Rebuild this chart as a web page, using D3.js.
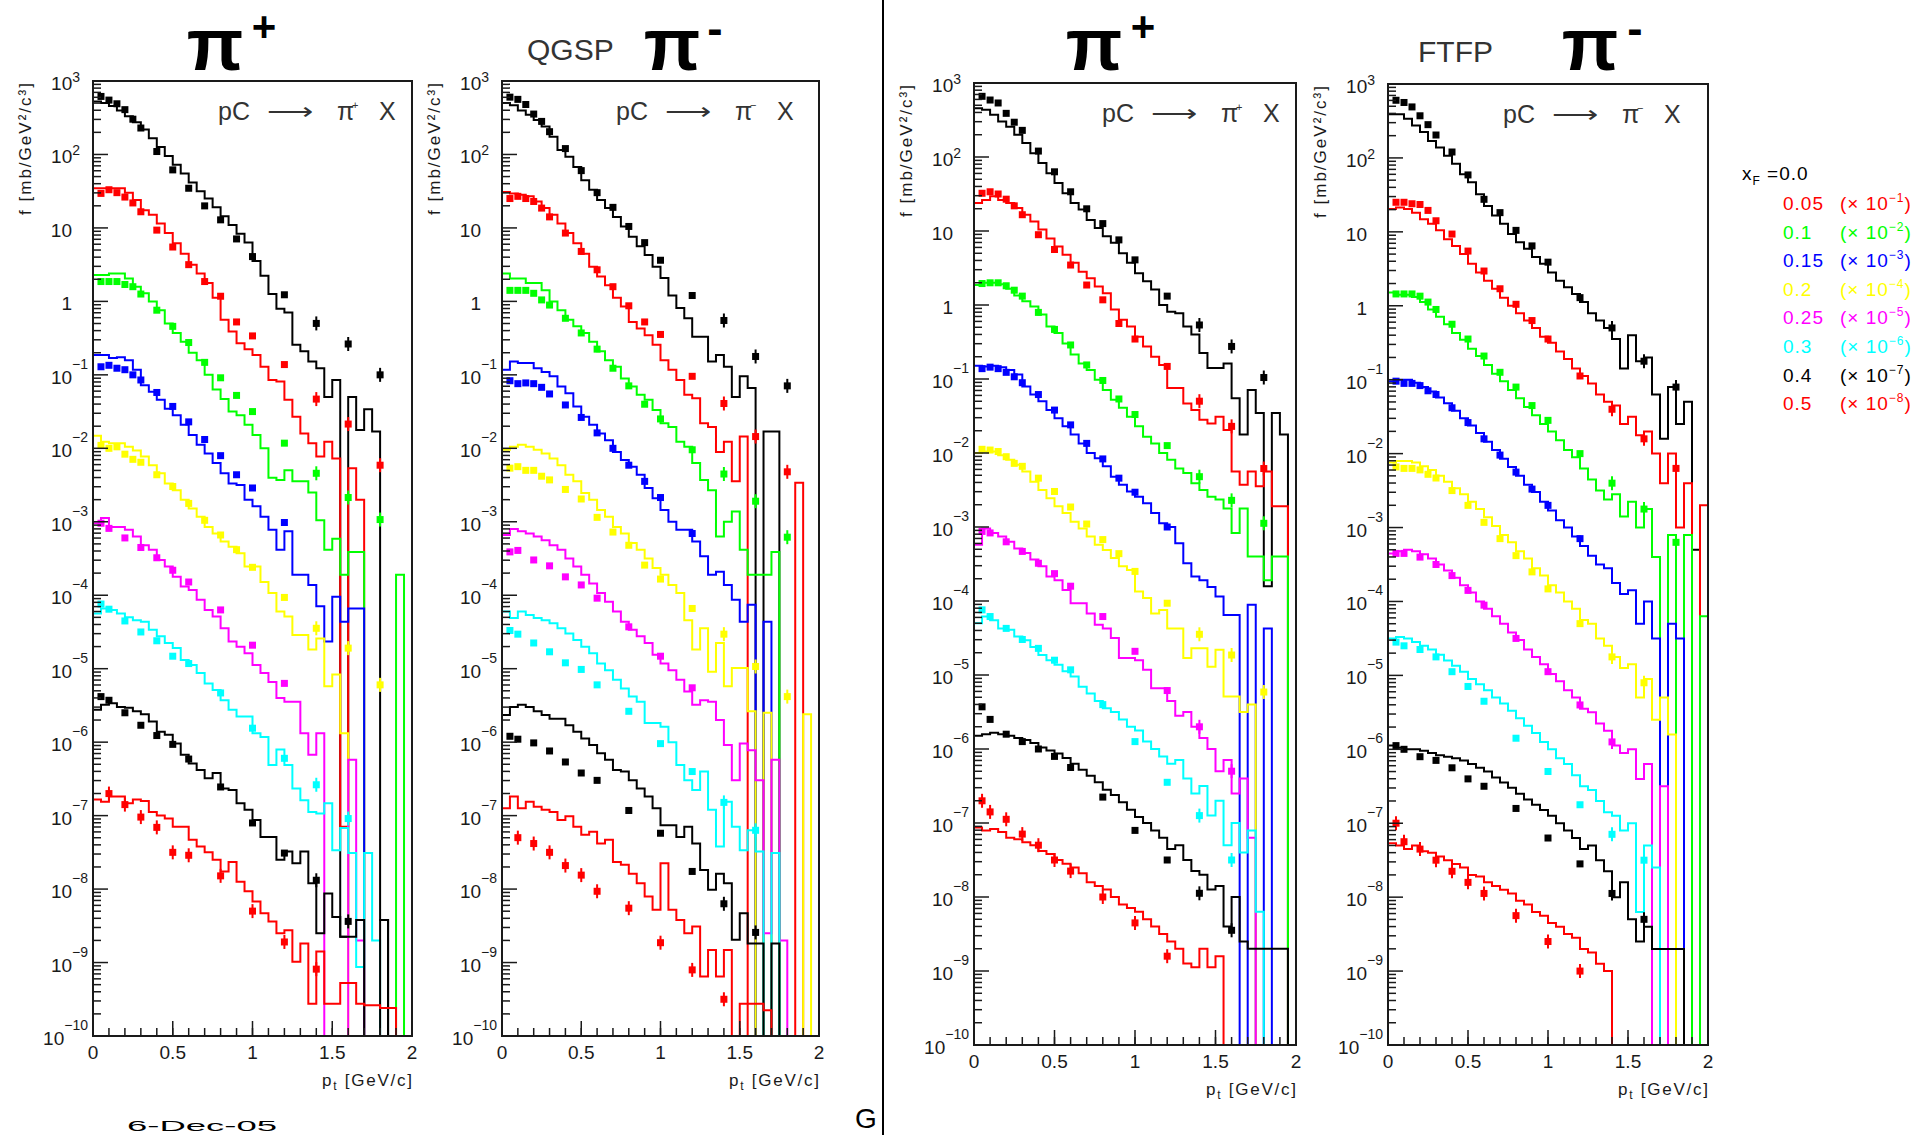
<!DOCTYPE html>
<html>
<head>
<meta charset="utf-8">
<script src="https://cdn.jsdelivr.net/npm/d3@7"></script>
<style>
  body { margin: 0; background: #fff; }
  svg { display: block; }
  text { font-family: "Liberation Sans", Arial, sans-serif; }
</style>
</head>
<body>
<svg id="chart" width="1932" height="1135"></svg>
<script>
// pt bin edges of the model histograms [GeV/c]
const binEdges = [0, 0.05, 0.1, 0.15, 0.2, 0.25, 0.3, 0.35, 0.4, 0.45, 0.5, 0.55, 0.6, 0.65, 0.7, 0.75,
  0.8, 0.85, 0.9, 0.95, 1.0, 1.05, 1.1, 1.15, 1.2, 1.25, 1.3, 1.35, 1.4, 1.45, 1.5, 1.55, 1.6, 1.65,
  1.7, 1.75, 1.8, 1.85, 1.9, 1.95, 2.0];
// pt of the measured points
const pointPt = [0.05, 0.1, 0.15, 0.2, 0.25, 0.3, 0.4, 0.5, 0.6, 0.7, 0.8, 0.9, 1.0, 1.2, 1.4, 1.6, 1.8];

const xfLabels = ['0.0', '0.05', '0.1', '0.15', '0.2', '0.25', '0.3', '0.4', '0.5'];
const scaleExps = [null, '−1', '−2', '−3', '−4', '−5', '−6', '−7', '−8'];
const seriesColors = ['#000000', '#ff0000', '#00ff00', '#0000ff', '#ffff00', '#ff00ff', '#00ffff', '#000000', '#ff0000'];
const yTickExps = [3, 2, 1, 0, -1, -2, -3, -4, -5, -6, -7, -8, -9, -10];
const xTickLabels = [0, 0.5, 1, 1.5, 2];

// all values are log10 of the plotted f (already multiplied by the legend factor); null = empty bin

// QGSP, pC -> pi+ X
const qgspPipHist = [
  [2.72, 2.70, 2.66, 2.60, 2.52, 2.44, 2.34, 2.22, 2.10, 1.98, 1.86, 1.74, 1.62, 1.50, 1.40, 1.28, 1.16, 1.04, 0.92, 0.80, 0.55, 0.35, 0.10, -0.10, -0.15, -0.59, -0.68, -0.82, -0.91, -1.30, -1.07, -8.65, -1.30, -1.75, -1.47, -1.77, -8.42, null, null, null],
  [1.54, 1.54, 1.54, 1.54, 1.48, 1.38, 1.24, 1.18, 1.06, 0.93, 0.79, 0.65, 0.50, 0.38, 0.25, 0.05, -0.25, -0.41, -0.57, -0.65, -0.73, -0.89, -1.07, -1.09, -1.34, -1.57, -1.80, -1.93, -2.11, -1.91, -2.14, -7.15, -2.27, -2.70, null, null, null, null, null, null],
  [0.36, 0.36, 0.38, 0.38, 0.31, 0.20, 0.11, 0.00, -0.12, -0.30, -0.43, -0.55, -0.70, -0.80, -1.00, -1.20, -1.33, -1.50, -1.55, -1.68, -1.82, -2.00, -2.40, -2.43, -2.30, -2.45, -2.45, -2.60, -2.98, -3.38, -3.23, -3.72, -3.41, -3.41, null, null, null, null, -3.72, null],
  [-0.73, -0.73, -0.77, -0.76, -0.80, -0.93, -1.14, -1.23, -1.34, -1.46, -1.55, -1.68, -1.82, -1.95, -2.07, -2.20, -2.34, -2.48, -2.50, -2.70, -2.79, -2.93, -3.11, -3.38, -3.13, -3.72, -3.72, -3.86, -4.15, -4.63, -4.02, -4.36, -4.18, -4.18, null, null, null, null, null, null],
  [-1.83, -1.91, -1.93, -1.93, -1.98, -2.03, -2.11, -2.23, -2.34, -2.48, -2.57, -2.70, -2.82, -2.93, -3.07, -3.16, -3.27, -3.34, -3.43, -3.61, -3.61, -3.82, -3.97, -4.22, -4.29, -4.54, -4.54, -4.74, -4.59, -5.24, -5.08, -5.88, null, null, null, null, null, null, null, null],
  [-3.02, -2.95, -3.07, -3.07, -3.11, -3.20, -3.32, -3.38, -3.52, -3.61, -3.75, -3.88, -3.93, -4.06, -4.20, -4.29, -4.45, -4.63, -4.70, -4.79, -4.95, -5.06, -5.18, -5.40, -5.45, -5.45, -5.88, -6.17, -5.88, null, null, null, -6.24, -8.70, null, null, null, null, null, null],
  [-4.25, -4.18, -4.20, -4.25, -4.30, -4.34, -4.36, -4.47, -4.56, -4.65, -4.72, -4.88, -4.95, -5.06, -5.20, -5.29, -5.43, -5.56, -5.65, -5.65, -5.88, -5.93, -6.31, -6.10, -6.31, -6.63, -6.79, -6.95, -6.97, -6.83, -7.47, -7.17, -7.51, -9.06, -7.51, -8.70, null, null, null, null],
  [-5.56, -5.49, -5.47, -5.52, -5.53, -5.58, -5.62, -5.72, -5.86, -5.90, -6.02, -6.17, -6.29, -6.38, -6.49, -6.42, -6.63, -6.65, -6.83, -6.92, -7.06, -7.29, -7.29, -7.60, -7.49, -7.65, -7.49, -7.92, -8.60, -8.06, -8.38, -8.65, -8.65, -8.42, null, null, -8.42, null, null, null],
  [-6.78, -6.81, -6.74, -6.74, -6.83, -6.78, -6.80, -6.95, -7.00, -7.04, -7.15, -7.15, -7.33, -7.42, -7.50, -7.60, -7.76, -7.63, -7.90, -8.03, -8.17, -8.33, -8.44, -8.60, -8.56, -8.99, -8.74, -9.56, -8.85, -9.56, -9.56, -9.28, -9.28, -9.56, -9.58, -9.58, -9.62, -9.62, null, null]
];
const qgspPipPts = [
  [2.79, 2.74, 2.69, 2.61, 2.48, 2.36, 2.04, 1.79, 1.54, 1.30, 1.11, 0.85, 0.61, 0.09, -0.30, -0.58, -1.00],
  [1.47, 1.52, 1.48, 1.42, 1.34, 1.22, 0.97, 0.74, 0.50, 0.27, 0.07, -0.28, -0.47, -0.86, -1.33, -1.67, -2.23],
  [0.27, 0.27, 0.27, 0.23, 0.20, 0.10, -0.12, -0.34, -0.56, -0.83, -1.04, -1.28, -1.50, -1.93, -2.34, -2.67, -2.97],
  [-0.89, -0.87, -0.91, -0.93, -1.00, -1.07, -1.24, -1.43, -1.64, -1.88, -2.10, -2.36, -2.54, -3.01, null, null, null],
  [-1.96, -2.00, -1.98, -2.08, -2.15, -2.19, -2.36, -2.52, -2.75, -2.98, -3.18, -3.38, -3.62, -4.03, -4.45, -4.72, -5.22],
  [-3.02, -3.09, null, -3.22, null, -3.35, -3.49, -3.66, -3.82, null, -4.20, null, -4.68, -5.20, null, null, null],
  [-4.12, -4.19, null, -4.35, null, -4.50, -4.62, -4.83, -4.93, null, -5.33, null, -5.81, -6.22, -6.58, -7.04, null],
  [-5.38, -5.43, null, -5.60, null, -5.77, -5.91, -6.03, -6.23, null, -6.61, null, -7.10, -7.51, -7.88, -8.44, null],
  [null, -6.70, null, -6.85, null, -7.02, -7.16, -7.50, -7.54, null, -7.82, null, -8.30, -8.72, -9.09, null, null]
];

// QGSP, pC -> pi- X
const qgspPimHist = [
  [2.70, 2.67, 2.60, 2.54, 2.47, 2.38, 2.24, 2.06, 1.97, 1.83, 1.65, 1.52, 1.38, 1.27, 1.15, 1.02, 0.88, 0.75, 0.63, 0.47, 0.32, 0.08, -0.09, -0.23, -0.48, -0.48, -0.82, -0.73, -0.89, -1.30, -1.02, -1.18, null, -1.77, -1.77, null, null, null, null, null],
  [1.49, 1.47, 1.45, 1.43, 1.36, 1.27, 1.18, 1.06, 0.93, 0.79, 0.65, 0.47, 0.34, 0.22, 0.05, -0.07, -0.28, -0.37, -0.46, -0.59, -0.80, -0.93, -1.07, -1.27, -1.32, -1.66, -1.71, -2.05, -1.91, -2.45, -1.84, null, null, null, null, null, null, -2.47, null, null],
  [0.38, 0.31, 0.31, 0.25, 0.25, 0.15, 0.00, -0.12, -0.25, -0.34, -0.43, -0.55, -0.68, -0.80, -0.89, -1.05, -1.16, -1.27, -1.34, -1.48, -1.66, -1.71, -1.91, -1.98, -2.20, -2.43, -2.57, -3.20, -3.00, -2.86, -3.38, -3.72, -3.72, -3.72, -3.41, null, null, null, null, null],
  [-0.93, -0.82, -0.84, -0.84, -0.91, -0.96, -1.02, -1.16, -1.25, -1.43, -1.57, -1.68, -1.80, -1.89, -2.05, -2.16, -2.25, -2.36, -2.54, -2.68, -2.84, -3.00, -3.11, -3.11, -3.27, -3.47, -3.72, -3.68, -3.86, -4.06, -4.36, -4.13, null, -4.36, null, null, null, null, null, null],
  [-2.02, -1.98, -1.95, -1.98, -2.02, -2.07, -2.14, -2.23, -2.36, -2.45, -2.61, -2.70, -2.84, -2.93, -3.07, -3.16, -3.29, -3.38, -3.50, -3.63, -3.72, -3.86, -3.97, -4.34, -4.74, -4.45, -5.04, -4.65, -5.24, -4.99, -4.99, -5.58, null, -5.60, null, null, null, null, -5.62, null],
  [-3.18, -3.10, -3.13, -3.16, -3.20, -3.25, -3.32, -3.38, -3.50, -3.61, -3.72, -3.84, -3.97, -4.09, -4.22, -4.36, -4.47, -4.56, -4.65, -4.81, -4.93, -5.02, -5.15, -5.31, -5.49, -5.43, -5.45, -5.70, -6.04, -6.52, -6.02, -6.11, -6.52, -8.60, -6.24, -8.70, null, null, null, null],
  [-4.22, -4.31, -4.22, -4.27, -4.31, -4.34, -4.38, -4.45, -4.52, -4.61, -4.70, -4.79, -4.93, -5.02, -5.15, -5.27, -5.38, -5.45, -5.74, -5.74, -5.79, -6.00, -6.31, -6.52, -6.65, -6.40, -6.92, -7.42, -6.81, -7.15, -7.47, -7.20, -7.49, null, -7.51, null, null, null, null, null],
  [-5.63, -5.52, -5.49, -5.52, -5.58, -5.63, -5.68, -5.68, -5.77, -5.86, -5.95, -6.04, -6.15, -6.24, -6.38, -6.40, -6.52, -6.63, -6.74, -6.90, -7.13, -7.13, -7.29, -7.15, -7.38, -7.74, -8.01, -7.79, -7.92, -8.69, -8.33, -8.74, -8.74, null, -8.74, null, null, null, null, null],
  [-6.90, -6.74, -6.90, -6.81, -6.88, -6.92, -6.95, -7.06, -7.01, -7.15, -7.26, -7.22, -7.38, -7.33, -7.63, -7.67, -7.79, -7.92, -8.10, -8.28, -7.65, -8.28, -8.42, -8.60, -8.51, -9.19, -8.83, -9.19, -8.83, null, -9.56, -9.56, -9.56, -9.65, null, null, null, null, null, null]
];
const qgspPimPts = [
  [2.78, 2.75, 2.68, 2.55, 2.45, 2.31, 2.08, 1.78, 1.48, 1.28, 1.02, 0.80, 0.56, 0.08, -0.26, -0.75, -1.15],
  [1.40, 1.43, 1.40, 1.36, 1.27, 1.15, 0.93, 0.68, 0.43, 0.20, -0.06, -0.28, -0.45, -1.02, -1.39, -1.84, -2.32],
  [0.15, 0.15, 0.15, 0.11, 0.02, -0.05, -0.23, -0.43, -0.65, -0.91, -1.15, -1.40, -1.60, -2.02, -2.35, -2.72, -3.21],
  [-1.08, -1.12, -1.11, -1.12, -1.17, -1.26, -1.41, -1.58, -1.79, -2.00, -2.23, -2.45, -2.67, -3.16, null, null, null],
  [-2.27, -2.25, -2.30, -2.30, -2.38, -2.43, -2.56, -2.69, -2.94, -3.14, -3.32, -3.59, -3.78, -4.18, -4.53, -4.97, -5.38],
  [-3.41, -3.39, null, -3.52, null, -3.60, -3.75, -3.86, -4.04, null, -4.43, null, -4.83, -5.26, null, null, null],
  [-4.48, -4.53, null, -4.65, null, -4.77, -4.92, -5.01, -5.22, null, -5.58, null, -6.02, -6.40, -6.82, -7.20, null],
  [-5.92, -5.96, null, -6.01, null, -6.12, -6.27, -6.42, -6.52, null, -6.93, null, -7.24, -7.76, -8.20, -8.59, null],
  [null, -7.30, null, -7.38, null, -7.50, -7.68, -7.81, -8.03, null, -8.26, null, -8.73, -9.10, -9.50, null, null]
];

// FTFP, pC -> pi+ X
const ftfpPipHist = [
  [2.66, 2.64, 2.57, 2.48, 2.41, 2.30, 2.19, 2.05, 1.92, 1.78, 1.65, 1.51, 1.38, 1.29, 1.15, 1.04, 0.93, 0.84, 0.70, 0.57, 0.43, 0.32, 0.21, 0.00, -0.09, -0.11, -0.29, -0.40, -0.65, -0.85, -0.85, -0.79, -1.26, -1.75, -1.15, -1.46, -3.80, -1.46, -1.75, null],
  [1.38, 1.42, 1.47, 1.42, 1.38, 1.31, 1.22, 1.13, 1.02, 0.90, 0.79, 0.68, 0.57, 0.45, 0.36, 0.25, 0.16, -0.06, -0.20, -0.29, -0.43, -0.56, -0.70, -0.81, -1.12, -1.12, -1.33, -1.42, -1.55, -1.60, -1.51, -1.69, -2.25, -2.43, -2.25, -2.45, -2.25, -2.72, -2.72, null],
  [0.27, 0.30, 0.30, 0.28, 0.22, 0.13, 0.05, -0.02, -0.13, -0.29, -0.38, -0.52, -0.67, -0.79, -0.88, -1.01, -1.15, -1.28, -1.39, -1.51, -1.64, -1.78, -1.87, -2.00, -2.09, -2.21, -2.27, -2.41, -2.50, -2.59, -2.63, -2.75, -3.08, -2.75, -3.40, -3.40, -3.72, -3.40, -3.40, null],
  [-0.82, -0.83, -0.82, -0.84, -0.88, -0.94, -1.10, -1.21, -1.30, -1.42, -1.53, -1.64, -1.75, -1.87, -2.00, -2.07, -2.18, -2.32, -2.43, -2.52, -2.59, -2.68, -2.81, -2.95, -3.00, -3.22, -3.49, -3.67, -3.72, -3.81, -3.94, -4.19, -4.19, null, -4.05, null, -4.37, null, null, null],
  [-2.00, -1.98, -1.98, -2.03, -2.09, -2.16, -2.25, -2.39, -2.50, -2.61, -2.72, -2.81, -2.93, -3.02, -3.13, -3.24, -3.31, -3.42, -3.53, -3.58, -3.87, -3.96, -4.17, -4.12, -4.37, -4.37, -4.77, -4.64, -4.64, -4.89, -4.66, -5.29, -5.29, -5.50, -5.40, null, null, null, null, null],
  [-3.24, -3.02, -3.08, -3.13, -3.20, -3.29, -3.35, -3.44, -3.53, -3.67, -3.72, -3.85, -4.03, -4.03, -4.17, -4.32, -4.37, -4.50, -4.77, -4.77, -4.80, -4.93, -5.18, -5.18, -5.35, -5.55, -5.50, -5.70, -5.85, -6.00, -6.30, -6.15, -6.60, -6.40, -7.20, null, null, null, null, null],
  [-4.30, -4.21, -4.26, -4.37, -4.39, -4.48, -4.53, -4.62, -4.73, -4.80, -4.86, -4.95, -5.02, -5.16, -5.25, -5.35, -5.45, -5.50, -5.60, -5.70, -5.75, -5.90, -6.00, -6.10, -6.20, -6.15, -6.40, -6.60, -6.50, -6.90, -6.70, -7.30, -7.00, -7.40, -7.10, -8.20, null, null, null, null],
  [-5.82, -5.80, -5.78, -5.80, -5.82, -5.85, -5.88, -5.92, -5.98, -6.02, -6.06, -6.12, -6.20, -6.28, -6.36, -6.45, -6.55, -6.62, -6.72, -6.82, -6.92, -7.00, -7.10, -7.20, -7.35, -7.30, -7.50, -7.65, -7.70, -7.90, -7.85, -8.40, -8.00, -8.60, -8.70, -8.70, -8.70, -8.70, -8.70, null],
  [-7.06, -7.10, -7.08, -7.12, -7.20, -7.22, -7.26, -7.30, -7.38, -7.42, -7.50, -7.55, -7.60, -7.68, -7.80, -7.85, -7.90, -8.00, -8.10, -8.15, -8.20, -8.30, -8.40, -8.50, -8.60, -8.70, -8.90, -8.95, -8.70, -8.95, -8.80, null, null, null, null, null, null, null, null, null]
];
const ftfpPipPts = [
  [2.82, 2.77, 2.73, 2.59, 2.47, 2.36, 2.08, 1.80, 1.53, 1.30, 1.10, 0.88, 0.61, 0.12, -0.27, -0.56, -0.98],
  [1.51, 1.53, 1.50, 1.43, 1.34, 1.22, 0.95, 0.75, 0.54, 0.27, 0.07, -0.25, -0.46, -0.83, -1.30, -1.64, -2.21],
  [0.29, 0.30, 0.30, 0.26, 0.20, 0.12, -0.10, -0.33, -0.54, -0.81, -1.02, -1.27, -1.48, -1.90, -2.32, -2.64, -2.95],
  [-0.86, -0.84, -0.86, -0.91, -0.97, -1.05, -1.21, -1.42, -1.62, -1.87, -2.08, -2.34, -2.53, -3.00, null, null, null],
  [-1.95, -1.96, -1.98, -2.05, -2.14, -2.18, -2.34, -2.52, -2.73, -2.96, -3.17, -3.36, -3.60, -4.03, -4.45, -4.73, -5.23],
  [-3.06, -3.08, null, -3.20, null, -3.33, -3.49, -3.63, -3.80, null, -4.21, null, -4.68, -5.21, -5.70, -6.30, null],
  [-4.12, -4.21, null, -4.37, null, -4.52, -4.64, -4.80, -4.93, null, -5.40, null, -5.90, -6.45, -6.90, -7.50, null],
  [-5.43, -5.60, null, -5.80, null, -5.90, -6.00, -6.10, -6.25, null, -6.65, null, -7.10, -7.50, -7.95, -8.45, null],
  [-6.70, -6.85, null, -6.95, null, -7.15, -7.30, -7.50, -7.65, null, -8.00, null, -8.35, -8.80, null, null, null]
];

// FTFP, pC -> pi- X
const ftfpPimHist = [
  [2.59, 2.59, 2.53, 2.44, 2.35, 2.23, 2.14, 2.03, 1.92, 1.78, 1.67, 1.51, 1.35, 1.22, 1.11, 0.97, 0.86, 0.77, 0.66, 0.57, 0.45, 0.34, 0.25, 0.16, 0.05, -0.10, -0.20, -0.30, -0.45, -0.85, -0.40, -0.75, -0.70, -1.20, -1.80, -1.10, -1.60, -1.30, -3.30, null],
  [1.31, 1.33, 1.31, 1.26, 1.17, 1.11, 1.02, 0.90, 0.81, 0.70, 0.57, 0.45, 0.34, 0.23, 0.11, 0.00, -0.10, -0.20, -0.30, -0.42, -0.50, -0.62, -0.72, -0.85, -0.95, -1.05, -1.20, -1.30, -1.35, -1.60, -1.50, -1.75, -1.70, -2.00, -2.40, -2.00, -3.00, -2.40, null, -2.70],
  [0.18, 0.15, 0.15, 0.12, 0.05, -0.05, -0.15, -0.25, -0.37, -0.46, -0.58, -0.68, -0.80, -0.92, -1.02, -1.14, -1.25, -1.37, -1.48, -1.60, -1.70, -1.82, -1.95, -2.05, -2.20, -2.35, -2.50, -2.62, -2.55, -2.85, -2.65, -3.00, -2.75, -3.40, null, -3.10, null, -3.10, null, -4.20],
  [-1.02, -1.00, -1.00, -1.04, -1.10, -1.16, -1.24, -1.32, -1.42, -1.52, -1.62, -1.72, -1.84, -1.95, -2.07, -2.18, -2.30, -2.42, -2.52, -2.65, -2.77, -2.90, -3.00, -3.12, -3.25, -3.38, -3.50, -3.55, -3.75, -3.90, -3.85, -4.30, -4.00, -4.50, null, -4.30, -4.50, null, null, null],
  [-2.12, -2.10, -2.10, -2.12, -2.17, -2.22, -2.30, -2.38, -2.47, -2.55, -2.65, -2.75, -2.86, -2.98, -3.10, -3.20, -3.32, -3.42, -3.55, -3.65, -3.78, -3.88, -4.00, -4.10, -4.25, -4.30, -4.50, -4.60, -4.75, -4.90, -4.85, -5.30, -5.05, -5.60, -5.30, -5.80, null, null, null, null],
  [-3.35, -3.32, -3.30, -3.32, -3.36, -3.42, -3.50, -3.58, -3.68, -3.78, -3.88, -4.00, -4.10, -4.20, -4.30, -4.42, -4.52, -4.65, -4.75, -4.85, -4.98, -5.08, -5.20, -5.30, -5.45, -5.50, -5.65, -5.75, -5.95, -6.05, -6.00, -6.40, -6.20, null, -6.50, null, null, null, null, null],
  [-4.50, -4.48, -4.50, -4.55, -4.60, -4.65, -4.72, -4.80, -4.87, -4.95, -5.05, -5.12, -5.20, -5.30, -5.38, -5.48, -5.58, -5.68, -5.78, -5.90, -6.00, -6.12, -6.20, -6.35, -6.50, -6.55, -6.70, -6.85, -6.90, -7.10, -7.00, -8.20, -7.30, -7.60, null, null, null, null, null, null],
  [-5.95, -5.98, -6.00, -6.00, -6.02, -6.05, -6.08, -6.10, -6.12, -6.15, -6.20, -6.25, -6.30, -6.38, -6.45, -6.52, -6.60, -6.68, -6.75, -6.82, -6.90, -7.00, -7.10, -7.20, -7.35, -7.30, -7.50, -7.65, -8.00, -7.80, -8.30, -8.60, -8.40, -8.70, -8.70, -8.70, -8.70, null, null, null],
  [-7.27, -7.30, -7.35, -7.30, -7.38, -7.40, -7.45, -7.50, -7.55, -7.60, -7.70, -7.72, -7.80, -7.85, -7.90, -7.95, -8.05, -8.10, -8.20, -8.25, -8.35, -8.40, -8.50, -8.55, -8.70, -8.75, -8.90, -9.00, null, null, null, null, null, null, null, null, null, null, null, null]
];
const ftfpPimPts = [
  [2.78, 2.75, 2.69, 2.57, 2.45, 2.31, 2.08, 1.77, 1.44, 1.26, 1.02, 0.81, 0.59, 0.11, -0.30, -0.75, -1.10],
  [1.40, 1.40, 1.38, 1.37, 1.29, 1.15, 0.97, 0.74, 0.47, 0.23, 0.02, -0.20, -0.45, -0.95, -1.40, -1.80, -2.20],
  [0.16, 0.16, 0.16, 0.13, 0.05, -0.05, -0.25, -0.45, -0.68, -0.90, -1.10, -1.35, -1.55, -2.00, -2.40, -2.75, -3.20],
  [-1.02, -1.05, -1.05, -1.08, -1.15, -1.20, -1.38, -1.58, -1.80, -2.02, -2.25, -2.48, -2.70, -3.15, null, null, null],
  [-2.18, -2.20, -2.20, -2.22, -2.28, -2.33, -2.50, -2.70, -2.93, -3.15, -3.38, -3.60, -3.83, -4.30, -4.75, -5.10, null],
  [-3.35, -3.35, null, -3.40, null, -3.50, -3.65, -3.85, -4.05, null, -4.50, null, -4.95, -5.40, -5.90, null, null],
  [-4.55, -4.60, null, -4.65, null, -4.75, -4.95, -5.15, -5.35, null, -5.85, null, -6.30, -6.75, -7.15, -7.50, null],
  [-5.95, -6.00, null, -6.10, null, -6.15, -6.25, -6.40, -6.50, null, -6.80, null, -7.20, -7.55, -7.95, -8.30, null],
  [-7.00, -7.25, null, -7.35, null, -7.50, -7.65, -7.80, -7.95, null, -8.25, null, -8.60, -9.00, null, null, null]
];

const panels = [
  { id: 'p1', x0: 93, x1: 412, yTop: 81, yBot: 1036, hist: qgspPipHist, pts: qgspPipPts,
    piX: 215, charge: '+', chargeX: 264, model: null, reactShift: 0, reactCharge: '+' },
  { id: 'p2', x0: 502, x1: 819, yTop: 81, yBot: 1036, hist: qgspPimHist, pts: qgspPimPts,
    piX: 672, charge: '-', chargeX: 715, model: 'QGSP', modelX: 527, modelY: 60, reactShift: -9, reactCharge: '−' },
  { id: 'p3', x0: 974, x1: 1296, yTop: 83, yBot: 1045, hist: ftfpPipHist, pts: ftfpPipPts,
    piX: 1094, charge: '+', chargeX: 1143, model: null, reactShift: 0, reactCharge: '+' },
  { id: 'p4', x0: 1388, x1: 1708, yTop: 84, yBot: 1045, hist: ftfpPimHist, pts: ftfpPimPts,
    piX: 1590, charge: '-', chargeX: 1635, model: 'FTFP', modelX: 1418, modelY: 62, reactShift: -11, reactCharge: '−' }
];

const svg = d3.select('#chart');
const ink = '#1a1a1a';

function drawPanel(p) {
  const x = d3.scaleLinear().domain([0, 2]).range([p.x0, p.x1]);
  const y = d3.scaleLog().domain([1e-10, 1e3]).range([p.yBot, p.yTop]);
  const g = svg.append('g');

  g.append('clipPath').attr('id', 'clip-' + p.id)
    .append('rect')
    .attr('x', p.x0).attr('y', p.yTop)
    .attr('width', p.x1 - p.x0).attr('height', p.yBot - p.yTop);

  const plot = g.append('g').attr('clip-path', `url(#clip-${p.id})`);
  const yOf = v => v == null ? p.yBot + 3 : y(Math.pow(10, v));

  // model histograms, outline only
  const step = d3.line().curve(d3.curveStepAfter);
  p.hist.forEach((vals, k) => {
    const pts = vals.map((v, i) => [x(binEdges[i]), yOf(v)]);
    pts.push([x(binEdges[vals.length]), yOf(vals[vals.length - 1])]);
    pts.push([x(binEdges[vals.length]), p.yBot + 3]);
    plot.append('path')
      .attr('d', step(pts))
      .attr('fill', 'none')
      .attr('stroke', seriesColors[k])
      .attr('stroke-width', 2);
  });

  // measured points, with a short error bar where the statistics get poor
  p.pts.forEach((vals, k) => {
    const rows = vals.map((v, i) => ({ pt: pointPt[i], v })).filter(d => d.v != null);
    plot.selectAll(null).data(rows.filter(d => d.pt >= 1.4 || k === 8)).join('line')
      .attr('x1', d => x(d.pt)).attr('x2', d => x(d.pt))
      .attr('y1', d => y(Math.pow(10, d.v)) - 7).attr('y2', d => y(Math.pow(10, d.v)) + 7)
      .attr('stroke', seriesColors[k]).attr('stroke-width', 2);
    plot.selectAll(null).data(rows).join('rect')
      .attr('x', d => x(d.pt) - 3.5)
      .attr('y', d => y(Math.pow(10, d.v)) - 3.5)
      .attr('width', 7).attr('height', 7)
      .attr('fill', seriesColors[k]);
  });

  // frame
  g.append('rect')
    .attr('x', p.x0).attr('y', p.yTop)
    .attr('width', p.x1 - p.x0).attr('height', p.yBot - p.yTop)
    .attr('fill', 'none').attr('stroke', ink).attr('stroke-width', 2);

  // y ticks (inside, pointing right)
  const minor = [];
  for (let e = -10; e < 3; e++) for (let m = 2; m <= 9; m++) minor.push(m * Math.pow(10, e));
  g.selectAll(null).data(minor).join('line')
    .attr('x1', p.x0).attr('x2', p.x0 + 8)
    .attr('y1', d => y(d)).attr('y2', d => y(d))
    .attr('stroke', ink).attr('stroke-width', 1.5);
  g.selectAll(null).data(yTickExps).join('line')
    .attr('x1', p.x0).attr('x2', p.x0 + 15)
    .attr('y1', d => y(Math.pow(10, d))).attr('y2', d => y(Math.pow(10, d)))
    .attr('stroke', ink).attr('stroke-width', 1.5);

  // y tick labels
  yTickExps.forEach(e => {
    const ty = y(Math.pow(10, e));
    if (e === 0 || e === 1) {
      g.append('text').attr('x', p.x0 - 21).attr('y', ty + 9)
        .attr('text-anchor', 'end').attr('font-size', 19).attr('fill', ink)
        .text(e === 1 ? '10' : '1');
      return;
    }
    const t = g.append('text')
      .attr('x', e < 0 ? p.x0 - 5 : p.x0 - 13).attr('y', ty + 9)
      .attr('text-anchor', 'end').attr('fill', ink);
    t.append('tspan').attr('font-size', 19).text('10');
    t.append('tspan').attr('font-size', 14).attr('dy', e < 0 ? -15 : -8)
      .text(e < 0 ? '−' + (-e) : String(e));
  });

  // x ticks (inside, pointing up)
  const xMinor = d3.range(0, 21).map(i => i / 10);
  g.selectAll(null).data(xMinor).join('line')
    .attr('x1', d => x(d)).attr('x2', d => x(d))
    .attr('y1', p.yBot).attr('y2', p.yBot - 8)
    .attr('stroke', ink).attr('stroke-width', 1.5);
  g.selectAll(null).data(xTickLabels).join('line')
    .attr('x1', d => x(d)).attr('x2', d => x(d))
    .attr('y1', p.yBot).attr('y2', p.yBot - 15)
    .attr('stroke', ink).attr('stroke-width', 1.5);
  g.selectAll(null).data(xTickLabels).join('text')
    .attr('x', d => x(d)).attr('y', p.yBot + 23)
    .attr('text-anchor', 'middle').attr('font-size', 19).attr('fill', ink)
    .text(d => String(d));

  // axis titles
  const xt = g.append('text').attr('x', p.x1).attr('y', p.yBot + 50)
    .attr('text-anchor', 'end').attr('font-size', 17).attr('fill', ink)
    .attr('textLength', 90).attr('lengthAdjust', 'spacing');
  xt.append('tspan').text('p');
  xt.append('tspan').attr('font-size', 12).attr('dy', 4).text('t');
  xt.append('tspan').attr('dy', -4).text(' [GeV/c]');

  g.append('text')
    .attr('transform', `translate(${p.x0 - 62},${p.yTop + 2}) rotate(-90)`)
    .attr('text-anchor', 'end').attr('font-size', 17).attr('fill', ink)
    .attr('textLength', 132).attr('lengthAdjust', 'spacing')
    .text('f [mb/GeV²/c³]');

  // reaction label
  const rx = p.x1 + p.reactShift;
  const ry = p.yTop + 39;
  const react = g.append('g').attr('fill', '#333').attr('font-size', 25);
  react.append('text').attr('x', rx - 194).attr('y', ry).text('pC');
  react.append('text').attr('x', rx - 145).attr('y', ry - 1)
    .attr('textLength', 47).attr('lengthAdjust', 'spacingAndGlyphs')
    .attr('font-family', 'DejaVu Sans').attr('font-size', 22).text('⟶');
  react.append('text').attr('x', rx - 75).attr('y', ry).text('π');
  react.append('text').attr('x', rx - 60).attr('y', ry - 11).attr('font-size', 11).text(p.reactCharge);
  react.append('text').attr('x', rx - 33).attr('y', ry).text('X');

  // big title: pi with its charge
  svg.append('text').attr('x', p.piX).attr('y', 70)
    .attr('text-anchor', 'middle').attr('font-size', 74).attr('font-weight', 'bold')
    .attr('font-family', 'DejaVu Sans')
    .attr('fill', '#000').text('π');
  svg.append('text').attr('x', p.chargeX).attr('y', p.charge === '+' ? 41 : 44)
    .attr('text-anchor', 'middle').attr('font-size', p.charge === '+' ? 42 : 46).attr('font-weight', 'bold')
    .attr('fill', '#000').text(p.charge);
  if (p.model) {
    svg.append('text').attr('x', p.modelX).attr('y', p.modelY)
      .attr('font-size', 30).attr('fill', '#333').text(p.model);
  }
}

panels.forEach(drawPanel);

// separator between the two model halves
svg.append('line').attr('x1', 883).attr('x2', 883).attr('y1', 0).attr('y2', 1135)
  .attr('stroke', '#000').attr('stroke-width', 2);

// legend
const legend = svg.append('g').attr('font-size', 19).attr('letter-spacing', 1);
const lx = 1742, ly0 = 180, lstep = 28.6;
const head = legend.append('text').attr('x', lx).attr('y', ly0).attr('fill', '#000');
head.append('tspan').text('x');
head.append('tspan').attr('font-size', 12).attr('dy', 5).text('F');
head.append('tspan').attr('dy', -5).text(' =' + xfLabels[0]);
xfLabels.slice(1).forEach((lab, i) => {
  const k = i + 1;
  const yy = ly0 + 30 + i * lstep;
  legend.append('text').attr('x', 1783).attr('y', yy).attr('fill', seriesColors[k]).text(lab);
  const t = legend.append('text').attr('x', 1840).attr('y', yy).attr('fill', seriesColors[k]);
  t.append('tspan').text('(× 10');
  t.append('tspan').attr('font-size', 12).attr('dy', -8).text(scaleExps[k]);
  t.append('tspan').attr('dy', 8).text(')');
});

// stray slide text at the foot of the page
svg.append('text').attr('x', 127).attr('y', 1131).attr('font-size', 14).attr('fill', '#000')
  .attr('textLength', 150).attr('lengthAdjust', 'spacingAndGlyphs').text('6-Dec-05');
svg.append('text').attr('x', 855).attr('y', 1128).attr('font-size', 28).attr('fill', '#000').text('G');
</script>
</body>
</html>
